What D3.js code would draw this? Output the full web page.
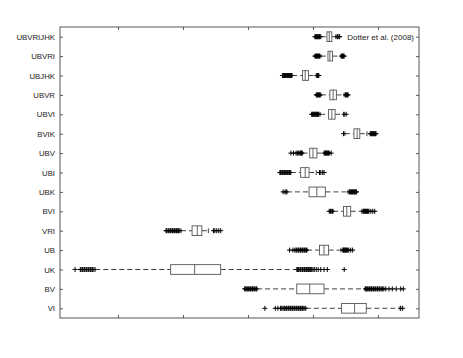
<!DOCTYPE html>
<html>
<head>
<meta charset="utf-8">
<script src="https://d3js.org/d3.v7.min.js"></script>
<style>
  body, html { margin: 0; padding: 0; background: #fff; }
  svg { display: block; }
  text { font-family: "Liberation Sans", Arial, sans-serif; fill: #222; }
</style>
</head>
<body>
<svg id="chart"></svg>
<script>
// filter combinations, top to bottom
var labels = ["UBVRIJHK", "UBVRI", "UBJHK", "UBVR", "UBVI", "BVIK", "UBV", "UBI",
              "UBK", "BVI", "VRI", "UB", "UK", "BV", "VI"];
// box statistics (arbitrary x units)
var whiskLo = [4.12, 4.12, 3.68, 4.12, 4.11, 4.49, 3.84, 3.66, 3.60, 4.31, 1.97, 3.91, 0.65, 3.14, 3.89];
var q1      = [4.215, 4.23, 3.84, 4.26, 4.24, 4.63, 3.95, 3.81, 3.94, 4.47, 2.14, 4.10, 1.81, 3.75, 4.44];
var median  = [4.25, 4.26, 3.88, 4.31, 4.29, 4.68, 4.00, 3.88, 4.06, 4.52, 2.22, 4.17, 2.18, 3.95, 4.64];
var q3      = [4.29, 4.30, 3.93, 4.36, 4.34, 4.72, 4.06, 3.94, 4.19, 4.58, 2.29, 4.24, 2.58, 4.17, 4.82];
var whiskHi = [4.35, 4.43, 4.05, 4.48, 4.47, 4.83, 4.17, 4.05, 4.54, 4.75, 2.39, 4.43, 3.75, 4.80, 5.34];
var outliers = [
  [4.03, 4.04, 4.05, 4.06, 4.07, 4.08, 4.09, 4.10, 4.11, 4.37, 4.38, 4.40, 4.41],
  [4.03, 4.04, 4.05, 4.06, 4.07, 4.08, 4.09, 4.10, 4.44, 4.45, 4.46, 4.47, 4.48],
  [3.53, 3.54, 3.55, 3.56, 3.57, 3.58, 3.59, 3.60, 3.61, 3.62, 3.63, 3.64, 3.65, 3.66, 3.67,
   4.06, 4.07, 4.08, 4.09],
  [4.05, 4.06, 4.07, 4.08, 4.09, 4.10, 4.11, 4.50, 4.51, 4.52, 4.53, 4.54],
  [3.98, 3.99, 4.00, 4.01, 4.02, 4.03, 4.04, 4.05, 4.06, 4.07, 4.08, 4.09, 4.48, 4.51],
  [4.47, 4.88, 4.89, 4.90, 4.91, 4.92, 4.93, 4.94, 4.95, 4.96, 4.97],
  [3.66, 3.70, 3.74, 3.76, 3.78, 3.80, 3.81, 3.82, 3.83,
   4.18, 4.19, 4.20, 4.21, 4.22, 4.23, 4.24, 4.25, 4.28],
  [3.49, 3.50, 3.52, 3.53, 3.55, 3.56, 3.58, 3.59, 3.61, 3.62, 3.64, 3.65,
   4.10, 4.12, 4.15, 4.17],
  [3.54, 3.57, 3.59, 4.56, 4.57, 4.58, 4.59, 4.60, 4.61, 4.62, 4.63, 4.64, 4.65, 4.66, 4.67],
  [4.25, 4.27, 4.28, 4.30, 4.77, 4.78, 4.79, 4.80, 4.81, 4.82, 4.83, 4.84, 4.85, 4.86,
   4.89, 4.92, 4.95],
  [1.74, 1.75, 1.77, 1.78, 1.80, 1.81, 1.83, 1.84, 1.86, 1.87, 1.89, 1.90, 1.92, 1.93, 1.95,
   2.47, 2.49, 2.52, 2.55, 2.58],
  [3.64, 3.69, 3.72, 3.74, 3.75, 3.77, 3.78, 3.80, 3.81, 3.83, 3.84, 3.86, 3.87, 3.89, 3.90,
   4.46, 4.47, 4.48, 4.49, 4.50, 4.51, 4.52, 4.53, 4.55, 4.58, 4.61],
  [0.34, 0.42, 0.43, 0.45, 0.46, 0.48, 0.49, 0.51, 0.52, 0.54, 0.55, 0.57, 0.58, 0.60, 0.61, 0.63,
   3.76, 3.77, 3.78, 3.80, 3.81, 3.83, 3.84, 3.86, 3.87, 3.89, 3.90, 3.92, 3.93, 3.95, 3.96,
   3.98, 4.00, 4.02, 4.05, 4.08, 4.12, 4.17, 4.22, 4.48],
  [2.95, 2.96, 2.98, 2.99, 3.01, 3.02, 3.04, 3.05, 3.07, 3.08, 3.10, 3.11, 3.13,
   4.81, 4.82, 4.84, 4.85, 4.87, 4.88, 4.90, 4.91, 4.93, 4.94, 4.96, 4.97, 4.99, 5.00,
   5.02, 5.03, 5.05, 5.07, 5.09, 5.12, 5.17, 5.22, 5.28, 5.35, 5.39],
  [3.26, 3.42, 3.46, 3.50, 3.52, 3.54, 3.56, 3.57, 3.59, 3.60, 3.62, 3.63, 3.65, 3.66, 3.68,
   3.69, 3.71, 3.72, 3.74, 3.75, 3.77, 3.78, 3.80, 3.81, 3.83, 3.84, 3.86, 3.88, 5.35, 5.38]
];
var xTicks = [1, 2, 3, 4, 5];
var legendText = "Dotter et al. (2008)";

var W = 463, H = 358;
var margin = {left: 60, right: 44, top: 27, bottom: 40};

var svg = d3.select("#chart").attr("width", W).attr("height", H);

var x = d3.scaleLinear()
  .domain([0.108, 5.631])
  .range([margin.left, W - margin.right]);

var y = d3.scaleLinear()
  .domain([0.5, labels.length + 0.5])
  .range([margin.top, H - margin.bottom]);

var rows = labels.map(function(d, i) {
  return {label: d, pos: i + 1, lo: whiskLo[i], q1: q1[i], med: median[i],
          q3: q3[i], hi: whiskHi[i], out: outliers[i]};
});

var boxH = (y(1) - y(0)) * 0.5;

// axes, ticks inside on all four sides
var tickLen = 3;
svg.append("g")
  .attr("transform", "translate(0," + (H - margin.bottom) + ")")
  .call(d3.axisBottom(x).tickValues(xTicks).tickSize(-tickLen).tickFormat(""))
  .call(function(g) { g.select(".domain").remove(); });
svg.append("g")
  .attr("transform", "translate(0," + margin.top + ")")
  .call(d3.axisTop(x).tickValues(xTicks).tickSize(-tickLen).tickFormat(""))
  .call(function(g) { g.select(".domain").remove(); });

svg.append("g")
  .attr("transform", "translate(" + margin.left + ",0)")
  .call(d3.axisLeft(y).tickValues(rows.map(function(r) { return r.pos; }))
    .tickSize(-tickLen).tickPadding(5)
    .tickFormat(function(d) { return labels[d - 1]; }))
  .call(function(g) {
    g.select(".domain").remove();
    g.selectAll("text").style("font-size", "7.8px").style("font-family", "Liberation Sans, Arial, sans-serif").attr("fill", "#222");
  });
svg.append("g")
  .attr("transform", "translate(" + (W - margin.right) + ",0)")
  .call(d3.axisRight(y).tickValues(rows.map(function(r) { return r.pos; }))
    .tickSize(-tickLen).tickFormat(""))
  .call(function(g) { g.select(".domain").remove(); });

svg.selectAll(".tick line").attr("stroke", "#333").attr("stroke-width", 0.8);

svg.append("rect")
  .attr("x", margin.left).attr("y", margin.top)
  .attr("width", W - margin.left - margin.right)
  .attr("height", H - margin.top - margin.bottom)
  .attr("fill", "none").attr("stroke", "#444").attr("stroke-width", 0.9);

var g = svg.selectAll(".bp").data(rows).join("g").attr("class", "bp");

// whiskers
g.append("line")
  .attr("x1", function(d) { return x(d.lo); }).attr("x2", function(d) { return x(d.q1); })
  .attr("y1", function(d) { return y(d.pos); }).attr("y2", function(d) { return y(d.pos); })
  .attr("stroke", "#111").attr("stroke-width", 0.8).attr("stroke-dasharray", "5,3");
g.append("line")
  .attr("x1", function(d) { return x(d.q3); }).attr("x2", function(d) { return x(d.hi); })
  .attr("y1", function(d) { return y(d.pos); }).attr("y2", function(d) { return y(d.pos); })
  .attr("stroke", "#111").attr("stroke-width", 0.8).attr("stroke-dasharray", "5,3");

// whisker end caps
["lo", "hi"].forEach(function(k) {
  g.append("line")
    .attr("x1", function(d) { return x(d[k]); }).attr("x2", function(d) { return x(d[k]); })
    .attr("y1", function(d) { return y(d.pos) - boxH / 4; })
    .attr("y2", function(d) { return y(d.pos) + boxH / 4; })
    .attr("stroke", "#111").attr("stroke-width", 0.8);
});

// boxes
g.append("rect")
  .attr("x", function(d) { return x(d.q1); })
  .attr("y", function(d) { return y(d.pos) - boxH / 2; })
  .attr("width", function(d) { return x(d.q3) - x(d.q1); })
  .attr("height", boxH)
  .attr("fill", "#fff").attr("stroke", "#555").attr("stroke-width", 0.9);

g.append("line")
  .attr("x1", function(d) { return x(d.med); }).attr("x2", function(d) { return x(d.med); })
  .attr("y1", function(d) { return y(d.pos) - boxH / 2; })
  .attr("y2", function(d) { return y(d.pos) + boxH / 2; })
  .attr("stroke", "#555").attr("stroke-width", 0.9);

// outliers as plus signs
g.selectAll(".out")
  .data(function(d) { return d.out.map(function(v) { return {v: v, pos: d.pos}; }); })
  .join("path")
  .attr("class", "out")
  .attr("transform", function(d) { return "translate(" + x(d.v) + "," + y(d.pos) + ")"; })
  .attr("d", "M-2.5,0H2.5M0,-2.5V2.5")
  .attr("stroke", "#000").attr("stroke-width", 1).attr("fill", "none");

// legend text
svg.append("text")
  .attr("x", W - margin.right - 5)
  .attr("y", y(1) + 3)
  .attr("text-anchor", "end")
  .style("font-size", "8px")
  .text(legendText);
</script>
</body>
</html>
